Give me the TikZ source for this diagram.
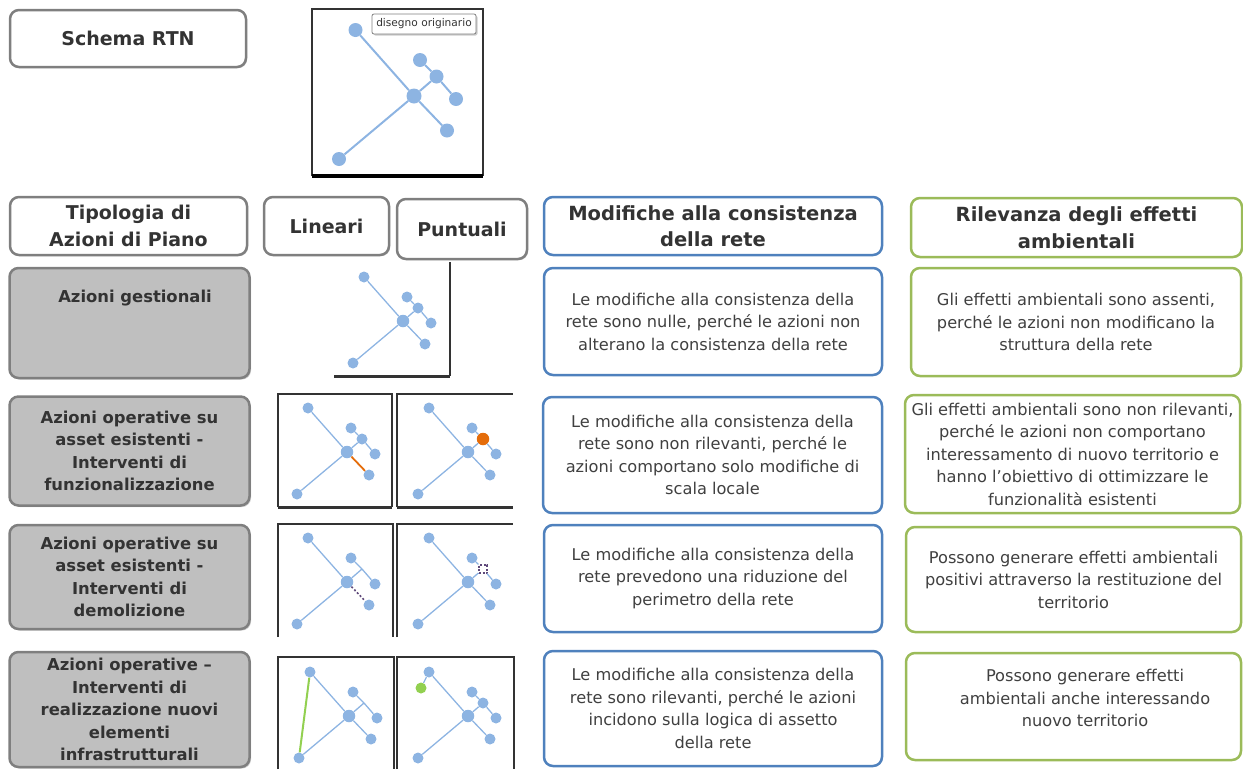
\documentclass[tikz,border=0pt]{standalone}
\usepackage{fontspec}
\setmainfont{DejaVu Sans}
\usetikzlibrary{shadows}

\definecolor{netblue}{HTML}{8DB4E2}
\definecolor{rtnorange}{HTML}{E46C0A}
\definecolor{rtnpurple}{HTML}{5F497A}
\definecolor{rtngreen}{HTML}{92D050}
\definecolor{boxgray}{HTML}{7F7F7F}
\definecolor{fillgray}{HTML}{BFBFBF}
\definecolor{boxblue}{HTML}{4F81BD}
\definecolor{boxgreen}{HTML}{9BBB59}
\definecolor{inkgray}{HTML}{333333}
\definecolor{bodygray}{HTML}{404040}
\definecolor{framegray}{HTML}{333333}

\tikzset{
  wh/.style 2 args={minimum width=#1, minimum height=#2},
  % network thumbnails
  netdot/.style={circle, fill=netblue, draw=none, inner sep=0pt, minimum size=11pt},
  centerdot/.style={netdot, minimum size=12.5pt},
  hubdot/.style={netdot},
  netline/.style={draw=netblue, line width=1.3pt},
  cnline/.style={netline},
  newline/.style={draw=rtngreen, line width=2pt},
  frameline/.style={draw=framegray, line width=1.3pt},
  framebase/.style={draw=framegray, line width=3pt},
  pics/rtn/.style={code={
    \node[centerdot] (-c) at (0,0) {};
    \node[netdot] (-tl) at (-39,-44) {};
    \node[netdot] (-n1) at (4,-24) {};
    \node[hubdot] (-n2) at (15,-13) {};
    \node[netdot] (-n3) at (28,2) {};
    \node[netdot] (-n4) at (22,23) {};
    \node[netdot] (-bl) at (-50,42) {};
    \draw[netline] (-tl) -- (-c);
    \draw[netline] (-c) -- (-n2);
    \draw[netline] (-n1) -- (-n2);
    \draw[netline] (-n2) -- (-n3);
    \draw[netline] (-bl) -- (-c);
    \draw[cnline] (-c) -- (-n4);
  }},
  % boxes
  rtnbox/.style={rounded corners=9pt, line width=2.5pt, fill=white, align=center, inner sep=0pt},
  headbox/.style={rtnbox, draw=boxgray, text=inkgray,
    drop shadow={shadow xshift=1.2pt, shadow yshift=-1.2pt, opacity=0.3},
    font=\bfseries\fontsize{19}{26.5}\selectfont},
  bluehead/.style={rtnbox, draw=boxblue, text=inkgray, font=\bfseries\fontsize{19.5}{26.5}\selectfont},
  greenhead/.style={rtnbox, draw=boxgreen, text=inkgray, font=\bfseries\fontsize{19.5}{26.5}\selectfont},
  actionbox/.style={rtnbox, draw=boxgray, fill=fillgray, text=inkgray,
    drop shadow={shadow xshift=1.5pt, shadow yshift=-1.5pt, opacity=0.4},
    font=\bfseries\fontsize{16.4}{22.5}\selectfont},
  actiontext/.style={align=center, inner sep=0pt, text=inkgray, font=\bfseries\fontsize{16.4}{22.5}\selectfont},
  bluebox/.style={rtnbox, draw=boxblue, text=bodygray, font=\fontsize{16.2}{22.5}\selectfont},
  greenbox/.style={rtnbox, draw=boxgreen, text=bodygray, font=\fontsize{16.2}{22.5}\selectfont},
  bodytext/.style={align=center, inner sep=0pt, text=bodygray, font=\fontsize{16.2}{22.5}\selectfont},
  tag/.style={draw=boxgray, line width=0.8pt, fill=white, rounded corners=2pt, inner sep=0pt,
    wh={104}{20}, text=inkgray, font=\fontsize{10.6}{12}\selectfont,
    drop shadow={shadow xshift=1.5pt, shadow yshift=-1.5pt, opacity=0.4}},
}

\begin{document}
\begin{tikzpicture}[x=1pt, y=-1pt]
\useasboundingbox (0,0) rectangle (1243,769);

% ---------- title and original network ----------
\node[headbox, wh={236}{57}] (schema) at (128,38.5) {Schema RTN};

\draw[frameline] (312,176) -- (312,9) -- (483,9) -- (483,176);
\draw[framebase, draw=black, line width=3.5pt] (312,176) -- (483,176);
\pic[scale=1.5, netdot/.append style={minimum size=14pt},
     centerdot/.append style={minimum size=15pt},
     netline/.append style={line width=2pt}] (orig) at (414,96) {rtn};
\node[tag] (origtag) at (424,24) {disegno originario};

% ---------- column headers ----------
\node[headbox, wh={237}{58}] (tipologia) at (128.5,226) {Tipologia di\\Azioni di Piano};
\node[headbox, wh={125}{58}] (lineari) at (326.5,226) {Lineari};
\node[headbox, wh={130}{60}] (puntuali) at (462,229) {Puntuali};
\node[bluehead, wh={338}{58}] (modifiche) at (713,226) {Modifiche alla consistenza\\della rete};
\node[greenhead, wh={331}{59}] (rilevanza) at (1076.5,227.5) {Rilevanza degli effetti\\ambientali};

% ---------- row 1: azioni gestionali ----------
\node[actionbox, wh={240}{110}] (gestionali) at (129.5,323) {};
\node[actiontext] (gestionalitext) at (135,298) {Azioni gestionali};

\draw[frameline] (450,262) -- (450,376);
\draw[framebase] (334,376) -- (450,376);
\pic (r1) at (403,321) {rtn};

\node[bluebox, wh={338}{107}] (mod1) at (713,321.5)
  {Le modifiche alla consistenza della\\rete sono nulle, perché le azioni non\\alterano la consistenza della rete};
\node[greenbox, wh={330}{108}] (eff1) at (1076,322)
  {Gli effetti ambientali sono assenti,\\perché le azioni non modificano la\\struttura della rete};

% ---------- row 2: funzionalizzazione ----------
\node[actionbox, wh={240}{109}] (funz) at (129.5,451)
  {Azioni operative su\\asset esistenti -\\Interventi di\\funzionalizzazione};

\draw[frameline] (278,507) -- (278,394) -- (392,394) -- (392,507);
\draw[framebase] (278,507) -- (392,507);
\draw[frameline] (397,507) -- (397,394) -- (513,394);
\draw[framebase] (397,507) -- (513,507);
\pic[cnline/.style={draw=rtnorange, line width=1.8pt}] (r2l) at (347,452) {rtn};
\pic[hubdot/.style={netdot, fill=rtnorange, minimum size=12.5pt}] (r2p) at (468,452) {rtn};

\node[bluebox, wh={339}{116}] (mod2) at (712.5,455)
  {Le modifiche alla consistenza della\\rete sono non rilevanti, perché le\\azioni comportano solo modifiche di\\scala locale};
\node[greenbox, wh={335}{118}] (eff2) at (1072.5,454)
  {Gli effetti ambientali sono non rilevanti,\\perché le azioni non comportano\\interessamento di nuovo territorio e\\hanno l’obiettivo di ottimizzare le\\funzionalità esistenti};

% ---------- row 3: demolizione ----------
\node[actionbox, wh={240}{104}] (demo) at (129.5,577)
  {Azioni operative su\\asset esistenti -\\Interventi di\\demolizione};

\draw[frameline] (278,637) -- (278,524) -- (393,524) -- (393,637);
\draw[frameline] (397,637) -- (397,524) -- (513,524);
\pic[hubdot/.style={coordinate},
     cnline/.style={draw=rtnpurple, line width=1.6pt, dash pattern=on 2pt off 2pt}] (r3l) at (347,582) {rtn};
\pic[hubdot/.style={rectangle, draw=rtnpurple, fill=white, inner sep=0pt, minimum size=8pt,
     line width=1.2pt, dash pattern=on 2pt off 1.5pt}] (r3p) at (468,582) {rtn};

\node[bluebox, wh={338}{107}] (mod3) at (713,578.5)
  {Le modifiche alla consistenza della\\rete prevedono una riduzione del\\perimetro della rete};
\node[greenbox, wh={335}{105}] (eff3) at (1073.5,579.5)
  {Possono generare effetti ambientali\\positivi attraverso la restituzione del\\territorio};

% ---------- row 4: nuovi elementi ----------
\node[actionbox, wh={240}{115}] (nuovi) at (129.5,709.5)
  {Azioni operative –\\Interventi di\\realizzazione nuovi\\elementi\\infrastrutturali};

\draw[frameline] (278,769) -- (278,657) -- (394,657) -- (394,769);
\draw[frameline] (397,769) -- (397,657) -- (514,657) -- (514,769);
\pic[hubdot/.style={coordinate}] (r4l) at (349,716) {rtn};
\draw[newline] (r4l-tl) -- (r4l-bl);
\pic (r4p) at (468,716) {rtn};
\node[netdot, fill=rtngreen] (r4pnew) at (421,688) {};
\draw[netline] (r4p-tl) -- (r4pnew);

\node[bluebox, wh={338}{115}] (mod4) at (713,708.5)
  {Le modifiche alla consistenza della\\rete sono rilevanti, perché le azioni\\incidono sulla logica di assetto\\della rete};
\node[greenbox, wh={335}{107}] (eff4) at (1073.5,706.5) {};
\node[bodytext] (eff4text) at (1085,698)
  {Possono generare effetti\\ambientali anche interessando\\nuovo territorio};
\end{tikzpicture}
\end{document}
